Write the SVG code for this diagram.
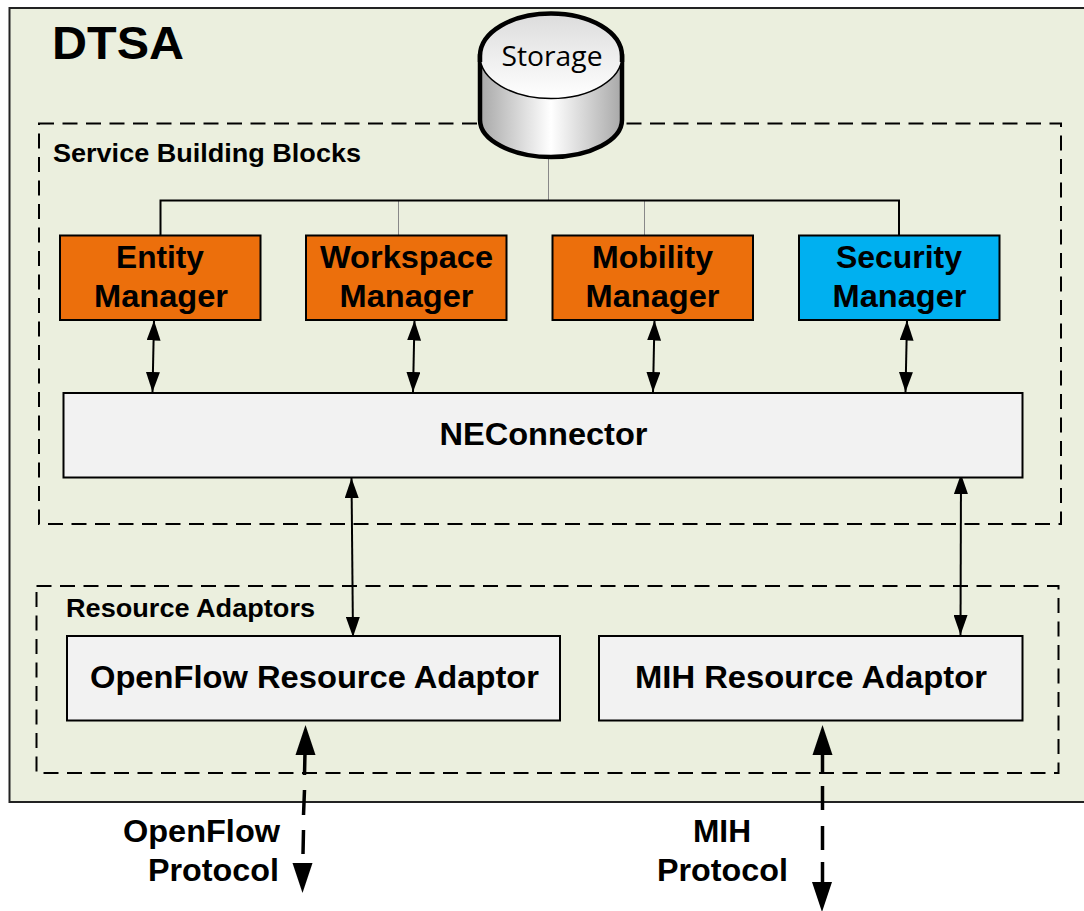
<svg xmlns="http://www.w3.org/2000/svg" width="1084" height="911" viewBox="0 0 1084 911">
<style>
text{font-family:"Liberation Sans",Arial,sans-serif;font-weight:bold;fill:#000;text-anchor:middle}
.t30{font-size:30.5px}.t26{font-size:25.5px}
.box{stroke:#000;stroke-width:2}
.or{fill:#ec6f0c}.bl{fill:#00b0f0}.gr{fill:#f2f2f2}
.dash{fill:none;stroke:#000;stroke-width:2;stroke-dasharray:15 8.5}
.a{fill:none;stroke:#000;stroke-width:2;marker-start:url(#ah);marker-end:url(#ah)}
.thin{fill:none;stroke:#888;stroke-width:1}
.bus{fill:none;stroke:#000;stroke-width:2}
</style>
<defs>
<marker id="ah" viewBox="0 0 20 14" refX="20" refY="7" markerUnits="userSpaceOnUse" markerWidth="20" markerHeight="14" orient="auto-start-reverse"><path d="M0 0L20 7L0 14z" fill="#000"/></marker>
<linearGradient id="cylSide" x1="0" x2="1" y1="0" y2="0"><stop offset="0" stop-color="#a8a8a8"/><stop offset=".5" stop-color="#fff"/><stop offset="1" stop-color="#a8a8a8"/></linearGradient>
<linearGradient id="cylTop" x1="0" x2="0" y1="0" y2="1"><stop offset="0" stop-color="#dcdcdc"/><stop offset="1" stop-color="#fff"/></linearGradient>
</defs>
<g id="dtsa"><rect x="9.500" y="8" width="1080" height="794" fill="#ebefde" stroke="#222" stroke-width="2"/><text x="118" y="59" font-size="46" textLength="132" lengthAdjust="spacingAndGlyphs">DTSA</text></g>
<g id="service-building-blocks"><rect x="39" y="123.500" width="1022" height="400.500" class="dash"/><text x="207" y="162" class="t26" textLength="308" lengthAdjust="spacingAndGlyphs">Service Building Blocks</text></g>
<g id="resource-adaptors"><rect x="36.500" y="586" width="1022" height="187" class="dash"/><text x="190.500" y="617" class="t26" textLength="249" lengthAdjust="spacingAndGlyphs">Resource Adaptors</text></g>
<g id="connectors">
<path class="thin" d="M548.500 155V200M398.500 200V235M644.500 200V235"/>
<path class="bus" d="M160.500 235V200.500H899V235"/>
<path class="a" d="M154 320.500L152.500 392"/>
<path class="a" d="M414.500 320.500L413 392"/>
<path class="a" d="M654.500 320.500L653 392"/>
<path class="a" d="M907 320.500L905.500 392"/>
<path class="a" d="M351.500 478L353 637"/>
<path class="a" d="M961 474L960.500 635"/>
<g fill="#000"><path d="M305.500 725L295.500 755H315.500z"/><path d="M302.500 893L292.500 863H312.500z"/><path d="M822.500 725L812.500 755H832.500z"/><path d="M822 912L812 882H832z"/></g>
<path d="M305 752L304.500 775M304.500 790L303.500 815M303.500 830L303 854" fill="none" stroke="#000" stroke-width="3.500"/>
<path d="M822.500 752V772M822.500 786V810M822.500 826V850M822.500 862V884" fill="none" stroke="#000" stroke-width="3.500"/>
</g>
<g id="storage">
<path d="M480 56V120C480 140 512 157 551 157C590 157 622 140 622 120V56z" fill="url(#cylSide)" stroke="#000" stroke-width="4.500"/>
<ellipse cx="551" cy="56" rx="71" ry="42.500" fill="url(#cylTop)" stroke="#000" stroke-width="1.500"/>
<path d="M480 62V56C480 32 512 13.500 551 13.500C590 13.500 622 32 622 56V62" fill="none" stroke="#000" stroke-width="4.500"/>
<text x="552" y="65.500" font-size="28" style="font-family:'Open Sans','Liberation Sans',sans-serif;font-weight:normal;" textLength="101" lengthAdjust="spacingAndGlyphs">Storage</text>
</g>
<g id="entity-manager"><rect x="60" y="235.500" width="200.500" height="84.500" class="box or"/><text x="160" y="268" class="t30" textLength="88" lengthAdjust="spacingAndGlyphs">Entity</text><text x="161" y="307" class="t30" textLength="134" lengthAdjust="spacingAndGlyphs">Manager</text></g>
<g id="workspace-manager"><rect x="306" y="235.500" width="200.500" height="84.500" class="box or"/><text x="406.500" y="268" class="t30" textLength="173" lengthAdjust="spacingAndGlyphs">Workspace</text><text x="406.500" y="307" class="t30" textLength="134" lengthAdjust="spacingAndGlyphs">Manager</text></g>
<g id="mobility-manager"><rect x="552.500" y="235.500" width="200.500" height="84.500" class="box or"/><text x="652.500" y="268" class="t30" textLength="121" lengthAdjust="spacingAndGlyphs">Mobility</text><text x="652.500" y="307" class="t30" textLength="134" lengthAdjust="spacingAndGlyphs">Manager</text></g>
<g id="security-manager"><rect x="799" y="235.500" width="200.500" height="84.500" class="box bl"/><text x="899" y="268" class="t30" textLength="126" lengthAdjust="spacingAndGlyphs">Security</text><text x="899.500" y="307" class="t30" textLength="134" lengthAdjust="spacingAndGlyphs">Manager</text></g>
<g id="neconnector"><rect x="63.500" y="393" width="959" height="84.500" class="box gr"/><text x="543.500" y="445" class="t30" textLength="208" lengthAdjust="spacingAndGlyphs">NEConnector</text></g>
<g id="openflow-adaptor"><rect x="67" y="636" width="493" height="84.500" class="box gr"/><text x="314.500" y="688" class="t30" textLength="449" lengthAdjust="spacingAndGlyphs">OpenFlow Resource Adaptor</text></g>
<g id="mih-adaptor"><rect x="599" y="636" width="423.500" height="84.500" class="box gr"/><text x="811" y="688" class="t30" textLength="352" lengthAdjust="spacingAndGlyphs">MIH Resource Adaptor</text></g>
<g id="openflow-protocol"><text x="201.500" y="842" class="t30" textLength="157" lengthAdjust="spacingAndGlyphs">OpenFlow</text><text x="213.500" y="881" class="t30" textLength="131" lengthAdjust="spacingAndGlyphs">Protocol</text></g>
<g id="mih-protocol"><text x="722" y="842" class="t30" textLength="58" lengthAdjust="spacingAndGlyphs">MIH</text><text x="722.500" y="881" class="t30" textLength="131" lengthAdjust="spacingAndGlyphs">Protocol</text></g>
</svg>
